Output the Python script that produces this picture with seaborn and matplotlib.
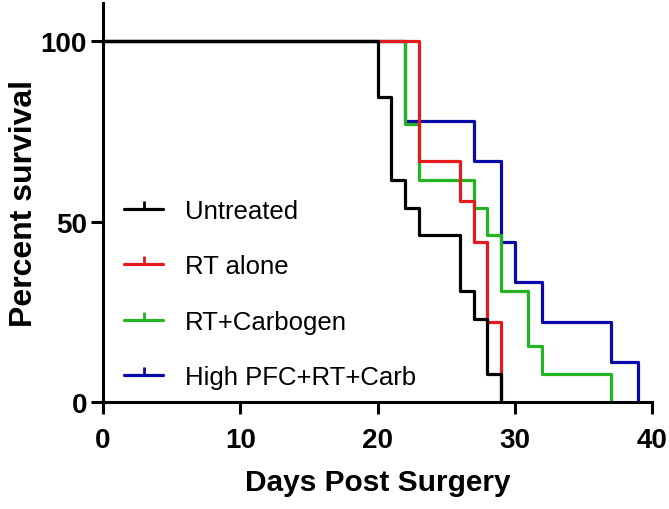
import matplotlib
matplotlib.use("Agg")
import matplotlib.pyplot as plt
from matplotlib.lines import Line2D
import seaborn as sns
import pandas as pd

groups = ["Untreated", "RT alone", "RT+Carbogen", "High PFC+RT+Carb"]
colors = ["#000000", "#e41a1c", "#22b422", "#0a0aa8"]

untreated_days = [0, 20, 21, 22, 23, 26, 27, 28, 29]
untreated_surv = [100, 84.6, 61.5, 53.8, 46.2, 30.8, 23.1, 7.7, 0]
rt_days = [0, 23, 26, 27, 28, 29]
rt_surv = [100, 66.7, 55.6, 44.4, 22.2, 0]
carb_days = [0, 22, 23, 27, 28, 29, 31, 32, 37]
carb_surv = [100, 76.9, 61.5, 53.8, 46.2, 30.8, 15.4, 7.7, 0]
pfc_days = [0, 22, 27, 29, 30, 32, 37, 39]
pfc_surv = [100, 77.8, 66.7, 44.4, 33.3, 22.2, 11.1, 0]

x_ticks = [0, 10, 20, 30, 40]
y_ticks = [0, 50, 100]

series = {
    "Untreated": (untreated_days, untreated_surv),
    "RT alone": (rt_days, rt_surv),
    "RT+Carbogen": (carb_days, carb_surv),
    "High PFC+RT+Carb": (pfc_days, pfc_surv),
}

sns.set_style("white")
plt.rcParams["font.family"] = ["Liberation Sans", "DejaVu Sans"]
plt.rcParams["text.color"] = "black"
plt.rcParams["axes.labelcolor"] = "black"
plt.rcParams["xtick.color"] = "black"
plt.rcParams["ytick.color"] = "black"

fig = plt.figure(figsize=(6.69, 5.10), dpi=100)
ax = fig.add_axes([0.154, 0.2098, 0.8206, 0.782])

draw_order = ["High PFC+RT+Carb", "RT+Carbogen", "RT alone", "Untreated"]
for g in draw_order:
    d, s = series[g]
    df = pd.DataFrame({"day": d, "surv": s})
    c = colors[groups.index(g)]
    sns.lineplot(data=df, x="day", y="surv", ax=ax, color=c, lw=2.3,
                 drawstyle="steps-post", estimator=None, sort=False,
                 legend=False)
for ln in ax.lines:
    ln.set_clip_on(False)

ax.set_xlim(0, 40)
ax.set_ylim(0, 110.5)
ax.set_xticks(x_ticks)
ax.set_yticks(y_ticks)
ax.set_xticklabels([str(v) for v in x_ticks], fontsize=20, fontweight="bold")
ax.set_yticklabels([str(v) for v in y_ticks], fontsize=20, fontweight="bold")
ax.tick_params(axis="both", direction="out", length=8.5, width=2.2,
               color="black", labelcolor="black", bottom=True, left=True)
ax.tick_params(axis="x", pad=9.5)
ax.tick_params(axis="y", pad=3)
for side in ["top", "right"]:
    ax.spines[side].set_visible(False)
for side in ["left", "bottom"]:
    ax.spines[side].set_linewidth(2.2)
    ax.spines[side].set_color("black")

ax.set_xlabel("Days Post Surgery", fontsize=21.5, fontweight="bold",
              labelpad=11, color="black")
ax.set_ylabel("Percent survival", fontsize=23, fontweight="bold",
              labelpad=1, color="black")

handles = [Line2D([], [], color=c, lw=2.3, marker=2, markersize=6,
                  markeredgewidth=2.0) for c in colors]
leg = ax.legend(handles, groups, loc="upper left", bbox_to_anchor=(0.02, 0.535),
                frameon=False, fontsize=18.5, handlelength=1.5,
                handletextpad=0.85, labelspacing=1.22, borderaxespad=0)
for t in leg.get_texts():
    t.set_color("black")

fig.savefig("out.png", dpi=100)
